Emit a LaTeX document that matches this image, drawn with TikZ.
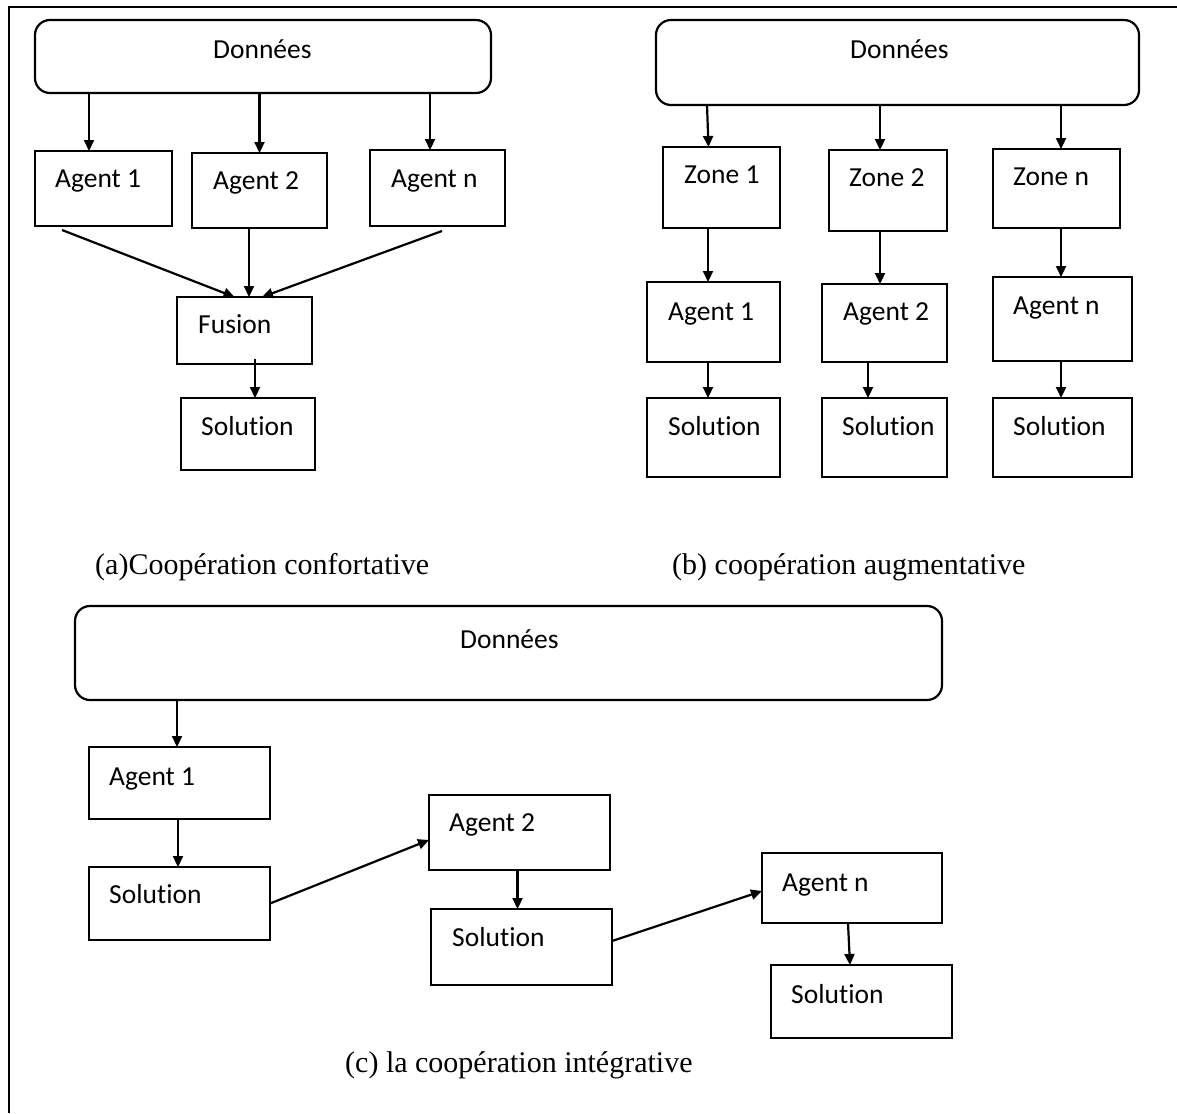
\documentclass[tikz,border=0pt]{standalone}
\usepackage{fontspec}
\setmainfont{Liberation Serif}
\newfontfamily\boxfamily[Ligatures=NoCommon]{Carlito}
\usetikzlibrary{arrows.meta}
\newcommand\boxfont{\boxfamily\fontsize{27.5}{30}\selectfont}
\newcommand\capfont{\rmfamily\fontsize{30}{34}\selectfont}
% \mkbox{style}{name}{x1}{y1}{x2}{y2}
\newcommand\mkbox[6]{%
  \node[#1, minimum width={#5-#3}, minimum height={#6-#4}] (#2) at ({(#3+#5)/2},{(#4+#6)/2}) {};}
\begin{document}
\begin{tikzpicture}[x=1pt,y=-1pt,
  box/.style={draw, line width=2.2pt, rectangle, inner sep=0pt, outer sep=0pt},
  rbox/.style={box, rounded corners=15pt},
  lbl/.style={font=\boxfont, anchor=base west, inner sep=0pt},
  captext/.style={font=\capfont, anchor=base west, inner sep=0pt},
  arr/.style={line width=2.2pt, -{Triangle[length=11pt,width=10pt]}},
  frame/.style={line width=2.2pt}]
\useasboundingbox (0,0) rectangle (1177,1113);
\draw[frame] (9,1113) -- (9,7) -- (1177,7);

% ---------- (a) confortative ----------
\mkbox{rbox}{aD}{35}{20}{491}{93}
\mkbox{box}{a1}{35}{151}{172}{226}
\mkbox{box}{a2}{192}{153}{327}{228}
\mkbox{box}{an}{370}{150}{505}{226}
\mkbox{box}{aF}{177}{297}{312}{364}
\mkbox{box}{aS}{181}{398}{315}{470}
\node[lbl] (aDt) at (213,59) {Données};
\node[lbl] (a1t) at (55,187) {Agent 1};
\node[lbl] (a2t) at (213,189) {Agent 2};
\node[lbl] (ant) at (391,187) {Agent n};
\node[lbl] (aFt) at (198,333) {Fusion};
\node[lbl] (aSt) at (201,435) {Solution};
\draw[arr] ([xshift=-14.5pt]a1.north |- aD.south) -- ([xshift=-14.5pt]a1.north);
\draw[arr] (a2.north |- aD.south) -- (a2.north);
\draw[arr] ([xshift=-7.5pt]an.north |- aD.south) -- ([xshift=-7.5pt]an.north);
\draw[arr] ([xshift=-41.5pt,yshift=-4pt]a1.south) -- ([xshift=-10pt]aF.north);
\draw[arr] ([xshift=4.5pt]aF.north |- a2.south) -- ([xshift=4.5pt]aF.north);
\draw[arr] ([xshift=4.5pt,yshift=-5pt]an.south) -- ([xshift=17.5pt]aF.north);
\draw[arr] ([xshift=10.5pt,yshift=5pt]aF.south) -- ([xshift=7pt]aS.north);
\node[captext] (acap) at (95,574) {(a)Coopération confortative};

% ---------- (b) augmentative ----------
\mkbox{rbox}{bD}{656}{20}{1139}{105}
\mkbox{box}{bz1}{663}{147}{780}{228}
\mkbox{box}{bz2}{829}{150}{947}{231}
\mkbox{box}{bzn}{993}{149}{1120}{228}
\mkbox{box}{ba1}{647}{282}{780}{362}
\mkbox{box}{ba2}{822}{284}{947}{362}
\mkbox{box}{ban}{993}{277}{1132}{361}
\mkbox{box}{bs1}{647}{398}{780}{477}
\mkbox{box}{bs2}{822}{398}{947}{477}
\mkbox{box}{bsn}{993}{398}{1132}{477}
\node[lbl] (bDt) at (850,59) {Données};
\node[lbl] (bz1t) at (684,183) {Zone 1};
\node[lbl] (bz2t) at (849,186) {Zone 2};
\node[lbl] (bznt) at (1013,185) {Zone n};
\node[lbl] (ba1t) at (668,320) {Agent 1};
\node[lbl] (ba2t) at (843,320) {Agent 2};
\node[lbl] (bant) at (1013,314) {Agent n};
\node[lbl] (bs1t) at (668,435) {Solution};
\node[lbl] (bs2t) at (842,435) {Solution};
\node[lbl] (bsnt) at (1013,435) {Solution};
\draw[arr] ([xshift=-14.5pt]bz1.north |- bD.south) -- ([xshift=-13pt]bz1.north);
\draw[arr] ([xshift=-8pt]bz2.north |- bD.south) -- ([xshift=-8pt]bz2.north);
\draw[arr] ([xshift=4.5pt]bzn.north |- bD.south) -- ([xshift=4.5pt]bzn.north);
\draw[arr] ([xshift=-5.5pt]ba1.north |- bz1.south) -- ([xshift=-5.5pt]ba1.north);
\draw[arr] ([xshift=-4.5pt]ba2.north |- bz2.south) -- ([xshift=-4.5pt]ba2.north);
\draw[arr] ([xshift=-1.5pt]ban.north |- bzn.south) -- ([xshift=-1.5pt]ban.north);
\draw[arr] ([xshift=-5.5pt]bs1.north |- ba1.south) -- ([xshift=-5.5pt]bs1.north);
\draw[arr] ([xshift=-16.5pt]bs2.north |- ba2.south) -- ([xshift=-16.5pt]bs2.north);
\draw[arr] ([xshift=-1.5pt]bsn.north |- ban.south) -- ([xshift=-1.5pt]bsn.north);
\node[captext] (bcap) at (672,574) {(b) coopération augmentative};

% ---------- (c) intégrative ----------
\mkbox{rbox}{cD}{75}{606}{942}{700}
\mkbox{box}{c1}{89}{747}{270}{819}
\mkbox{box}{cs1}{89}{867}{270}{940}
\mkbox{box}{c2}{429}{795}{610}{870}
\mkbox{box}{cs2}{431}{909}{612}{985}
\mkbox{box}{cn}{762}{853}{942}{923}
\mkbox{box}{csn}{771}{965}{952}{1038}
\node[lbl] (cDt) at (460,648) {Données};
\node[lbl] (c1t) at (109,785) {Agent 1};
\node[lbl] (cs1t) at (109,903) {Solution};
\node[lbl] (c2t) at (449,831) {Agent 2};
\node[lbl] (cs2t) at (452,946) {Solution};
\node[lbl] (cnt) at (782,891) {Agent n};
\node[lbl] (csnt) at (791,1003) {Solution};
\draw[arr] ([xshift=-2.5pt]c1.north |- cD.south) -- ([xshift=-2.5pt]c1.north);
\draw[arr] ([xshift=-1.5pt]cs1.north |- c1.south) -- ([xshift=-1.5pt]cs1.north);
\draw[arr] ([xshift=-4pt]cs2.north |- c2.south) -- ([xshift=-4pt]cs2.north);
\draw[arr] ([xshift=-4pt]cn.south) -- ([xshift=-11.5pt]csn.north);
\draw[arr] (cs1.east) -- ([yshift=-7.5pt]c2.west);
\draw[arr] ([yshift=6pt]cs2.east) -- ([yshift=-3pt]cn.west);
\node[captext] (ccap) at (345,1072) {(c) la coopération intégrative};
\end{tikzpicture}
\end{document}
